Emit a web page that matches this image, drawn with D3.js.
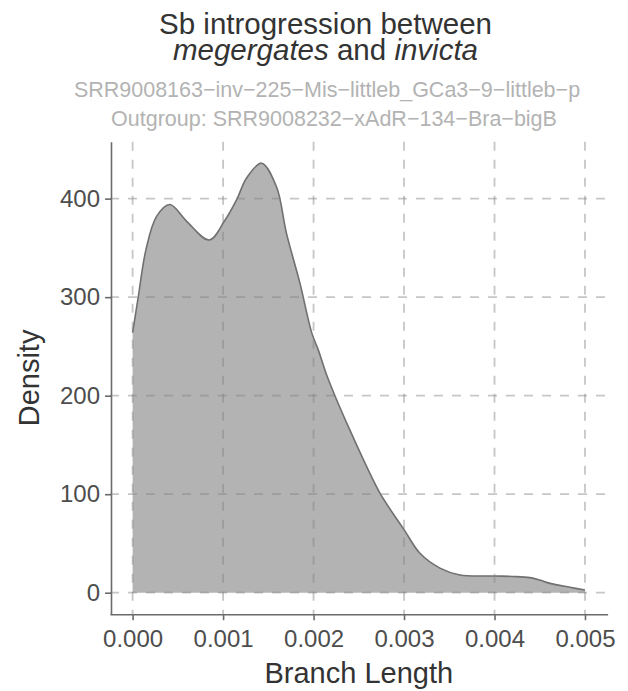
<!DOCTYPE html>
<html>
<head>
<meta charset="utf-8">
<script src="https://cdn.jsdelivr.net/npm/d3@7"></script>
<style>
  body { margin: 0; background: #fff; }
  text { font-family: "Liberation Sans", Arial, sans-serif; }
</style>
</head>
<body>
<div id="app"></div>
<script>
'use strict'

// density estimate of branch lengths
const branchLength = [0.0, 0.000062, 0.000147, 0.000265, 0.000412, 0.000597, 0.000847,
                      0.001013, 0.00115, 0.00126, 0.001426, 0.00159, 0.0017, 0.00185,
                      0.001979, 0.00205, 0.002145, 0.002236, 0.002402,
                      0.002587, 0.00274, 0.003, 0.003176, 0.003397, 0.003618,
                      0.004, 0.0042, 0.004392, 0.0045, 0.004613, 0.004834, 0.005];
const density = [264, 300, 348, 382, 394, 377, 358,
                 377, 399, 421, 436, 412, 365, 314,
                 264, 247, 221, 200, 165,
                 128, 100, 64, 40, 25, 18,
                 17, 16.5, 15.3, 12.9, 9.5, 5.5, 2.7];

const xTicks = [0, 0.001, 0.002, 0.003, 0.004, 0.005];
const yTicks = [0, 100, 200, 300, 400];

const titleLine1 = 'Sb introgression between';
const subtitle1 = 'SRR9008163\u2212inv\u2212225\u2212Mis\u2212littleb_GCa3\u22129\u2212littleb\u2212p';
const subtitle2 = 'Outgroup: SRR9008232\u2212xAdR\u2212134\u2212Bra\u2212bigB';

const width = 628;
const height = 691;
const panel = {left: 110, right: 607.6, top: 141.7, bottom: 614.2};

let points = branchLength.map((b, i) => ({x: b, y: density[i]}));

let svg = d3.select('#app')
  .append('svg')
  .attr('width', width)
  .attr('height', height);

// ggplot style 5% expansion
let xExt = d3.extent(branchLength);
let xPad = (xExt[1] - xExt[0]) * 0.05;
let x = d3.scaleLinear()
  .domain([xExt[0] - xPad, xExt[1] + xPad])
  .range([panel.left, panel.right]);

let yMax = d3.max(density);
let yPad = yMax * 0.05;
let y = d3.scaleLinear()
  .domain([-yPad, yMax + yPad])
  .range([panel.bottom, panel.top]);

// Draw area
let curve = d3.curveCatmullRom.alpha(0.5);
let area = d3.area()
  .x((d) => x(d.x))
  .y0(y(0))
  .y1((d) => y(d.y))
  .curve(curve);
let line = d3.line()
  .x((d) => x(d.x))
  .y((d) => y(d.y))
  .curve(curve);

svg.append('path')
  .datum(points)
  .attr('d', area)
  .attr('fill', '#b3b3b3');
svg.append('path')
  .datum(points)
  .attr('d', line)
  .attr('fill', 'none')
  .attr('stroke', '#707070')
  .attr('stroke-width', 1.6);

// Draw dashed grid on top
let grid = svg.append('g')
  .attr('stroke', 'rgba(128,128,128,0.45)')
  .attr('stroke-width', 1.8)
  .attr('stroke-dasharray', '9,9');
grid.selectAll('line.h')
  .data(yTicks)
  .enter()
    .append('line')
      .attr('x1', panel.left)
      .attr('x2', panel.right)
      .attr('y1', (d) => y(d))
      .attr('y2', (d) => y(d));
grid.selectAll('line.v')
  .data(xTicks)
  .enter()
    .append('line')
      .attr('y1', panel.top)
      .attr('y2', panel.bottom)
      .attr('x1', (d) => x(d))
      .attr('x2', (d) => x(d));

// Axes
let xAxis = svg.append('g')
  .attr('transform', `translate(0,${panel.bottom})`)
  .call(d3.axisBottom(x).tickValues(xTicks).tickFormat(d3.format('.3f')).tickSize(6).tickSizeOuter(0).tickPadding(5));
let yAxis = svg.append('g')
  .attr('transform', `translate(${panel.left + 1},0)`)
  .call(d3.axisLeft(y).tickValues(yTicks).tickSize(6).tickSizeOuter(0).tickPadding(5));

for (let ax of [xAxis, yAxis]) {
  ax.select('.domain').attr('stroke', '#6b6b6b').attr('stroke-width', 1.6);
  ax.selectAll('.tick line').attr('stroke', '#6b6b6b').attr('stroke-width', 1.6);
  ax.selectAll('.tick text')
    .attr('fill', '#4d4d4d')
    .style('font-family', '"Liberation Sans", Arial, sans-serif')
    .style('font-size', '24px');
}
xAxis.selectAll('.tick text').attr('dy', '0.9em');

// Axis titles
svg.append('text')
  .attr('x', (panel.left + panel.right) / 2)
  .attr('y', 683)
  .attr('text-anchor', 'middle')
  .attr('fill', '#333')
  .style('font-size', '29px')
  .text('Branch Length');
svg.append('text')
  .attr('transform', `translate(39,${(panel.top + panel.bottom) / 2}) rotate(-90)`)
  .attr('text-anchor', 'middle')
  .attr('fill', '#333')
  .style('font-size', '29px')
  .text('Density');

// Titles
svg.append('text')
  .attr('x', 325.5)
  .attr('y', 34)
  .attr('text-anchor', 'middle')
  .attr('fill', '#333')
  .style('font-size', '29.5px')
  .text(titleLine1);
let t2 = svg.append('text')
  .attr('x', 325.5)
  .attr('y', 60)
  .attr('text-anchor', 'middle')
  .attr('fill', '#333')
  .style('font-size', '29.5px');
t2.append('tspan').style('font-style', 'italic').text('megergates');
t2.append('tspan').text(' and ');
t2.append('tspan').style('font-style', 'italic').text('invicta');

svg.append('text')
  .attr('x', 327)
  .attr('y', 97)
  .attr('text-anchor', 'middle')
  .attr('fill', '#b3b3b3')
  .style('font-size', '21.5px')
  .text(subtitle1);
svg.append('text')
  .attr('x', 334)
  .attr('y', 126)
  .attr('text-anchor', 'middle')
  .attr('fill', '#b3b3b3')
  .style('font-size', '21.5px')
  .text(subtitle2);
</script>
</body>
</html>
